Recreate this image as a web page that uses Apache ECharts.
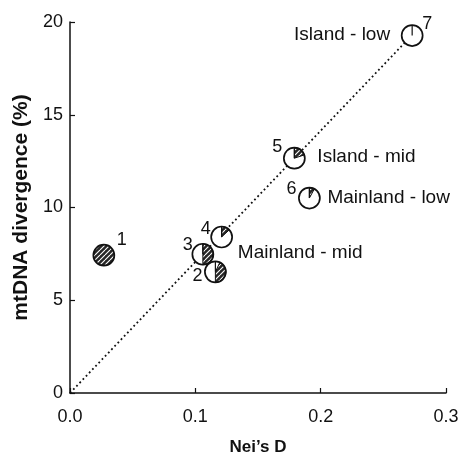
<!DOCTYPE html>
<html>
<head>
<meta charset="utf-8">
<script src="https://cdn.jsdelivr.net/npm/echarts@6/dist/echarts.min.js"></script>
<style>
    html, body { margin: 0; padding: 0; background: #fff; }
    #chart { width: 474px; height: 455px; }
</style>
</head>
<body>
<div id="chart"></div>
<script>
// populations: Nei's D vs mtDNA divergence, pie = hatched share
var pointIds = ['1', '2', '3', '4', '5', '6', '7'];
var neiD = [0.027, 0.116, 0.106, 0.121, 0.179, 0.191, 0.273];
var mtDNA = [7.43, 6.53, 7.48, 8.41, 12.66, 10.51, 19.27];
var hatchShare = [1.0, 0.43, 0.5, 0.13, 0.2, 0.08, 0];
var hatchStart = [0, 0.07, 0, 0, 0, 0, 0];

var groupNames = ['Island - low', 'Island - mid', 'Mainland - low', 'Mainland - mid'];
var groupAnchor = [6, 4, 5, 2];

var fitLineX = [0, 0.273];
var fitLineY = [0, 19.3];

var xTicks = [0, 0.1, 0.2, 0.3];
var yTicks = [0, 5, 10, 15, 20];

// label placement (pixels, relative to the point)
var idOffset = [[18, -15], [-18, 4], [-15, -9], [-16, -8], [-17, -11], [-18, -9], [15, -12]];
var groupOffset = [[-22, -1, 'right'], [23, -1, 'left'], [18, 0, 'left'], [35, -1, 'left']];

var FONT = '"Liberation Sans", Arial, sans-serif';
var INK = '#111';
var R = 10.5;

function hatchPattern() {
    var s = 5;
    var cv = document.createElement('canvas');
    cv.width = s; cv.height = s;
    var ctx = cv.getContext('2d');
    ctx.fillStyle = '#262626';
    ctx.fillRect(0, 0, s, s);
    ctx.strokeStyle = '#ffffff';
    ctx.lineWidth = 1.1;
    for (var k = -1; k <= 1; k++) {
        ctx.beginPath();
        ctx.moveTo(k * s, s);
        ctx.lineTo(k * s + s, 0);
        ctx.stroke();
    }
    return {image: cv, repeat: 'repeat'};
}
var hatch = hatchPattern();

var pieData = [];
for (var i = 0; i < pointIds.length; i++) {
    pieData.push([neiD[i], mtDNA[i], hatchShare[i], hatchStart[i], i]);
}
var groupData = [];
for (var g = 0; g < groupNames.length; g++) {
    var a = groupAnchor[g];
    groupData.push([neiD[a], mtDNA[a], g]);
}
var lineData = [];
for (var j = 0; j < fitLineX.length; j++) lineData.push([fitLineX[j], fitLineY[j]]);

var chart = echarts.init(document.getElementById('chart'));

var option = {
    backgroundColor: '#ffffff',
    animation: false,
    grid: {left: 70, right: 28, top: 22, bottom: 62, outerBoundsMode: 'none'},
    xAxis: {
        type: 'value',
        min: xTicks[0],
        max: xTicks[xTicks.length - 1],
        interval: 0.1,
        name: "Nei\u2019s D",
        nameLocation: 'middle',
        nameGap: 46,
        nameTextStyle: {fontFamily: FONT, fontSize: 17, fontWeight: 'bold', color: INK},
        axisLine: {lineStyle: {color: INK, width: 1.5}},
        axisTick: {inside: true, length: 5, lineStyle: {color: INK, width: 1.2}},
        axisLabel: {
            margin: 15, fontFamily: FONT, fontSize: 18, color: INK,
            formatter: function (v) { return v.toFixed(1); }
        },
        splitLine: {show: false}
    },
    yAxis: {
        type: 'value',
        min: yTicks[0],
        max: yTicks[yTicks.length - 1],
        interval: 5,
        name: 'mtDNA divergence (%)',
        nameLocation: 'middle',
        nameGap: 37,
        nameTextStyle: {fontFamily: FONT, fontSize: 21, fontWeight: 'bold', color: INK},
        axisLine: {lineStyle: {color: INK, width: 1.5}},
        axisTick: {inside: true, length: 5, lineStyle: {color: INK, width: 1.2}},
        axisLabel: {margin: 7, fontFamily: FONT, fontSize: 18, color: INK},
        splitLine: {show: false}
    },
    series: [{
        type: 'line',
        data: lineData,
        symbol: 'none',
        lineStyle: {color: INK, width: 1.8, type: [1.8, 2.8]},
        z: 1
    }, {
        type: 'custom',
        data: pieData,
        z: 3,
        renderItem: function (params, api) {
            var c = api.coord([api.value(0), api.value(1)]);
            var share = api.value(2);
            var start = -Math.PI / 2 + api.value(3) * 2 * Math.PI;
            var idx = api.value(4);
            var kids = [{
                type: 'circle',
                shape: {cx: c[0], cy: c[1], r: R},
                style: {fill: '#fff', stroke: 'none'}
            }];
            if (share >= 0.999) {
                kids.push({
                    type: 'circle',
                    shape: {cx: c[0], cy: c[1], r: R},
                    style: {fill: hatch, stroke: 'none'}
                });
            } else if (share > 0) {
                kids.push({
                    type: 'sector',
                    shape: {cx: c[0], cy: c[1], r: R, r0: 0,
                        startAngle: start, endAngle: start + share * 2 * Math.PI, clockwise: true},
                    style: {fill: hatch, stroke: INK, lineWidth: 1}
                });
            }
            if (share < 0.999) {
                kids.push({
                    type: 'line',
                    shape: {x1: c[0], y1: c[1], x2: c[0], y2: c[1] - R},
                    style: {stroke: INK, lineWidth: 1.2}
                });
            }
            kids.push({
                type: 'circle',
                shape: {cx: c[0], cy: c[1], r: R},
                style: {fill: 'none', stroke: INK, lineWidth: 1.7}
            });
            var off = idOffset[idx];
            kids.push({
                type: 'text',
                x: c[0] + off[0],
                y: c[1] + off[1],
                style: {
                    text: pointIds[idx], fontFamily: FONT, fontSize: 18, fill: INK,
                    align: 'center', verticalAlign: 'middle'
                }
            });
            return {type: 'group', children: kids};
        }
    }, {
        type: 'custom',
        data: groupData,
        z: 4,
        renderItem: function (params, api) {
            var c = api.coord([api.value(0), api.value(1)]);
            var g = api.value(2);
            var off = groupOffset[g];
            return {
                type: 'text',
                x: c[0] + off[0],
                y: c[1] + off[1],
                style: {
                    text: groupNames[g], fontFamily: FONT, fontSize: 19, fill: INK,
                    align: off[2], verticalAlign: 'middle'
                }
            };
        }
    }]
};

chart.setOption(option);
</script>
</body>
</html>
